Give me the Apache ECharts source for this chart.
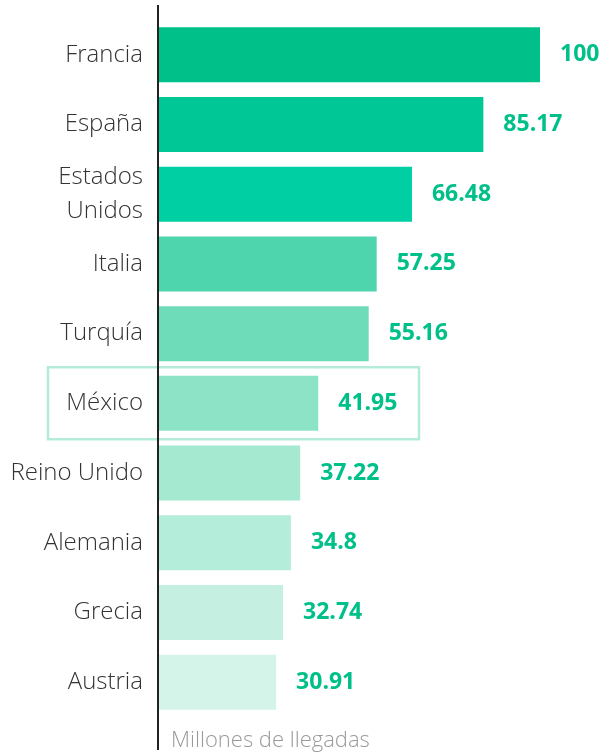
<!DOCTYPE html>
<html><head><meta charset="utf-8">
<script src="https://cdn.jsdelivr.net/npm/echarts@6/dist/echarts.min.js"></script>
<style>html,body{margin:0;padding:0;background:#fff}#c{width:611px;height:754px}</style>
</head><body><div id="c"></div>
<script>
const categories = ['Francia','España','Estados\nUnidos','Italia','Turquía','México','Reino Unido','Alemania','Grecia','Austria'];
const values = [100, 85.17, 66.48, 57.25, 55.16, 41.95, 37.22, 34.8, 32.74, 30.91];
const barColors = ['#00c08a','#00c796','#00cfa3','#4fd5ad','#6edcb9','#8ce3c6','#a5e9d1','#b5eddb','#c5f0e1','#d4f3e9'];
const axisName = 'Millones de llegadas';
const highlight = 'México';

const chart = echarts.init(document.getElementById('c'));
const option = {
  animation: false,
  grid: {left: 158, right: 71, top: 20, bottom: 37, containLabel: false},
  xAxis: {type: 'value', min: 0, max: 100, show: false},
  yAxis: {
    type: 'category', data: categories, inverse: true,
    axisLine: {show: false}, axisTick: {show: false},
    axisLabel: {margin: 15, color: '#333', fontFamily: 'Open Sans', fontWeight: 300, fontSize: 24, lineHeight: 34,
      padding: [0, 0, 8, 0]}
  },
  series: [{
    type: 'bar', barWidth: 55,
    data: values.map((v, i) => ({value: v, itemStyle: {color: barColors[i]}})),
    label: {show: true, position: 'right', distance: 20, color: '#00c08a', fontFamily: 'Open Sans', fontWeight: 'bold', fontSize: 23,
      padding: [0, 0, 6, 0], formatter: p => String(p.value)}
  }]
};
chart.setOption(option);
const idx = categories.indexOf(highlight);
const cy = chart.convertToPixel({yAxisIndex: 0}, idx);
const x0 = chart.convertToPixel({xAxisIndex: 0}, 0);
chart.setOption({
  graphic: [
    {type: 'rect', shape: {x: 48, y: cy - 36, width: 371, height: 72}, style: {fill: 'none', stroke: '#b5ecd9', lineWidth: 2.5}, z: 1},
    {type: 'line', shape: {x1: x0, y1: 5, x2: x0, y2: 750}, style: {stroke: '#222', lineWidth: 2}, z: 10},
    {type: 'text', x: x0 + 13, y: 741, style: {text: axisName, fill: '#9a9a9a', fontFamily: 'Open Sans', fontWeight: 300, fontSize: 22, textVerticalAlign: 'middle'}}
  ]
});
</script></body></html>
